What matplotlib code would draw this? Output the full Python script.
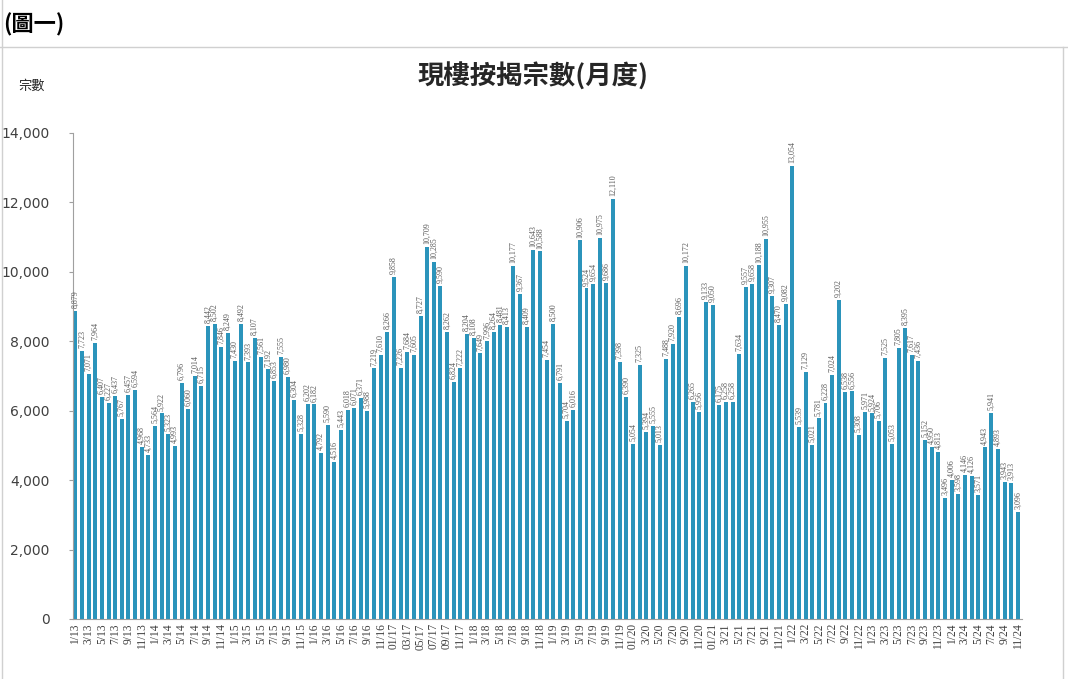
import matplotlib
matplotlib.use("Agg")
import matplotlib.pyplot as plt
from matplotlib.lines import Line2D

plt.rcParams['font.family'] = ['Noto Sans CJK TC', 'DejaVu Sans']

# ---- data ----
values_2013 = [8879, 7723, 7071, 7964, 6407, 6227, 6437, 5767, 6457, 6594, 4968, 4733]
values_2014 = [5564, 5922, 5323, 4993, 6796, 6060, 7014, 6715, 8442, 8502, 7846, 8249]
values_2015 = [7430, 8492, 7393, 8107, 7561, 7192, 6853, 7555, 6980, 6304, 5328, 6202]
values_2016 = [6182, 4792, 5590, 4516, 5443, 6018, 6071, 6371, 5988, 7219, 7610, 8266]
values_2017 = [9858, 7226, 7684, 7605, 8727, 10709, 10285, 9590, 8262, 6824, 7222, 8204]
values_2018 = [8108, 7649, 7996, 8264, 8481, 8413, 10177, 9367, 8409, 10643, 10588, 7454]
values_2019 = [8500, 6791, 5704, 6016, 10906, 9524, 9654, 10975, 9686, 12110, 7398, 6390]
values_2020 = [5054, 7325, 5394, 5555, 5013, 7488, 7920, 8696, 10172, 6265, 5956, 9133]
values_2021 = [9050, 6175, 6258, 6258, 7634, 9557, 9658, 10188, 10955, 9307, 8470, 9082]
values_2022 = [13054, 5539, 7129, 5021, 5781, 6228, 7024, 9202, 6538, 6556, 5308, 5971]
values_2023 = [5924, 5706, 7525, 5053, 7805, 8395, 7617, 7436, 5152, 4950, 4813, 3496]
values_2024 = [4006, 3598, 4146, 4126, 3571, 4943, 5941, 4893, 3943, 3913, 3096]

values = (values_2013 + values_2014 + values_2015 + values_2016 + values_2017 +
          values_2018 + values_2019 + values_2020 + values_2021 + values_2022 +
          values_2023 + values_2024)

tick_labels = (
    ["1/13", "3/13", "5/13", "7/13", "9/13", "11/13"] +
    ["1/14", "3/14", "5/14", "7/14", "9/14", "11/14"] +
    ["1/15", "3/15", "5/15", "7/15", "9/15", "11/15"] +
    ["1/16", "3/16", "5/16", "7/16", "9/16", "11/16"] +
    ["01/17", "03/17", "05/17", "07/17", "09/17", "11/17"] +
    ["1/18", "3/18", "5/18", "7/18", "9/18", "11/18"] +
    ["1/19", "3/19", "5/19", "7/19", "9/19", "11/19"] +
    ["01/20", "3/20", "5/20", "7/20", "9/20", "11/20"] +
    ["01/21", "3/21", "5/21", "7/21", "9/21", "11/21"] +
    ["1/22", "3/22", "5/22", "7/22", "9/22", "11/22"] +
    ["1/23", "3/23", "5/23", "7/23", "9/23", "11/23"] +
    ["1/24", "3/24", "5/24", "7/24", "9/24", "11/24"]
)

header_text = "(圖一)"
title_text = "現樓按揭宗數(月度)"
ylabel_text = "宗數"

# ---- figure ----
fig = plt.figure(figsize=(10.68, 6.79), dpi=100)
ax = fig.add_axes([73/1068, 1 - 619/679, (1022 - 73)/1068, (619 - 133)/679])

bar_color = "#2b94bb"
x = list(range(len(values)))
bars = ax.bar(x, values, width=0.6, color=bar_color, zorder=2)

for xi, v in zip(x, values):
    ax.annotate(f"{v:,}", (xi, v), xytext=(0, 2), textcoords="offset points",
                rotation=90, ha="center", va="bottom", fontsize=5.8,
                color="#595959", family=["Liberation Serif", "DejaVu Serif"])

ax.set_xlim(-0.35, 142.6)
ax.set_ylim(0, 14000)
ax.set_yticks(range(0, 14001, 2000))
ax.set_yticklabels([f"{t:,}" for t in range(0, 14001, 2000)],
                   fontsize=10, color="#404040", family=["DejaVu Sans"])
ax.set_xticks(x[::2])
ax.set_xticklabels(tick_labels, rotation=90, fontsize=8.3, color="#404040",
                   family=["Liberation Serif", "DejaVu Serif"])
ax.tick_params(axis="x", length=0, pad=3)
ax.tick_params(axis="y", length=3, color="#a0a0a0", pad=14)

for s in ["top", "right"]:
    ax.spines[s].set_visible(False)
ax.spines["left"].set_color("#a0a0a0")
ax.spines["bottom"].set_color("#a0a0a0")

fig.text(533/1068, 1 - 77/679, title_text, ha="center", va="center",
         fontsize=19, fontweight="bold", color="#262626")
fig.text(18/1068, 1 - 86/679, ylabel_text, ha="left", va="center",
         fontsize=9.5, color="#262626")
fig.text(3/1068, 1 - 25/679, header_text, ha="left", va="center",
         fontsize=16, fontweight="bold", color="#000000")

# frame lines (table cell borders)
fig.add_artist(Line2D([0, 1], [1 - 47/679, 1 - 47/679], transform=fig.transFigure,
                      color="#d0d0d0", lw=1))
fig.add_artist(Line2D([2/1068, 2/1068], [0, 1], transform=fig.transFigure,
                      color="#d0d0d0", lw=1))
fig.add_artist(Line2D([1063/1068, 1063/1068], [0, 1 - 47/679], transform=fig.transFigure,
                      color="#d0d0d0", lw=1))

fig.savefig("out.png", dpi=100, facecolor="white")
